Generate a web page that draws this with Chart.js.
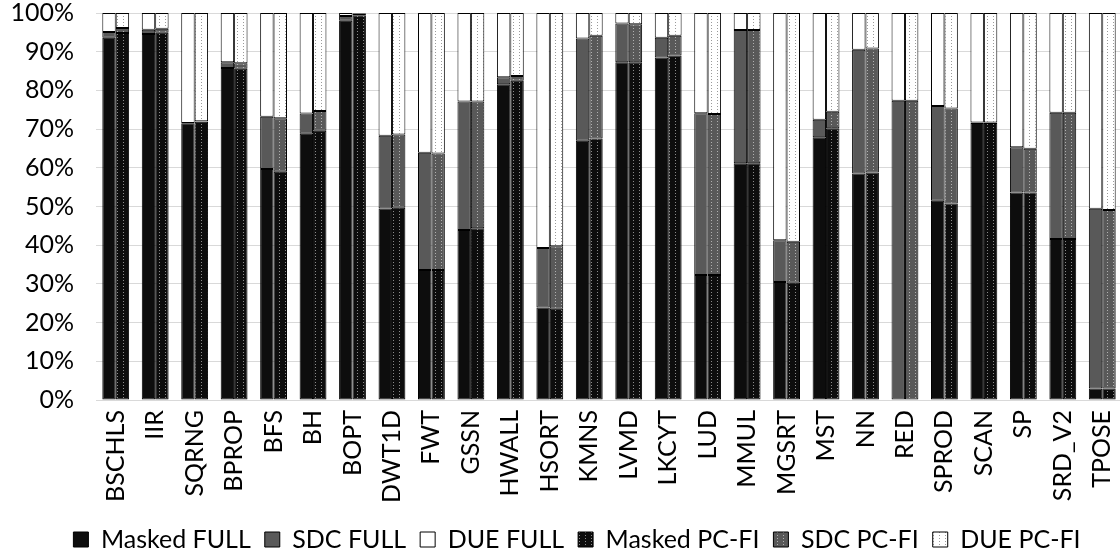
<!DOCTYPE html>
<html>
<head>
<meta charset="utf-8">
<script src="https://cdn.jsdelivr.net/npm/chart.js@4.4.1/dist/chart.umd.min.js"></script>
<style>
  html, body { margin: 0; padding: 0; background: #fff; overflow: hidden; }
  #wrap { width: 1122px; height: 553px; }
</style>
</head>
<body>
<div id="wrap"><canvas id="c" width="1122" height="553"></canvas></div>
<script>
const categories = ['BSCHLS','IIR','SQRNG','BPROP','BFS','BH','BOPT','DWT1D','FWT','GSSN','HWALL','HSORT','KMNS','LVMD','LKCYT','LUD','MMUL','MGSRT','MST','NN','RED','SPROD','SCAN','SP','SRD_V2','TPOSE'];

const maskedFull = [93.6,94.6,71.5,85.8,59.7,68.8,98.0,49.5,33.6,43.9,81.6,23.9,67.0,87.3,88.5,32.3,61.2,30.5,67.9,58.5,0,51.5,71.6,53.6,41.6,3.0];
const sdcFull    = [1.5,1.1,0.1,1.5,13.5,5.2,1.2,18.8,30.3,33.2,1.8,15.4,26.4,10.0,5.1,41.8,34.4,10.8,4.5,32.0,77.3,24.5,0.1,11.7,32.6,46.4];
const dueFull    = [4.9,4.3,28.4,12.7,26.8,26.0,0.8,31.7,36.1,22.9,16.6,60.7,6.6,2.7,6.4,25.9,4.4,58.7,27.6,9.5,22.7,24.0,28.3,34.7,25.8,50.6];

const maskedPcfi = [94.8,94.9,71.9,85.6,59.0,69.6,99.4,49.7,33.6,44.4,82.5,23.6,67.6,87.3,89.0,32.3,61.2,30.3,70.2,58.8,0,50.8,71.6,53.6,41.6,3.0];
const sdcPcfi    = [1.3,1.0,0.1,1.4,13.8,5.1,0.5,18.9,30.1,32.7,1.2,16.1,26.5,9.8,5.1,41.6,34.4,10.6,4.3,32.0,77.3,24.5,0.1,11.3,32.6,46.1];
const duePcfi    = [3.9,4.1,28.0,13.0,27.2,25.3,0.1,31.4,36.3,22.9,16.3,60.3,5.9,2.9,5.9,26.1,4.4,59.1,25.5,9.2,22.7,24.7,28.3,35.1,25.8,50.9];

const yTicks = [0,10,20,30,40,50,60,70,80,90,100];

const FONT = 'Lato, "Open Sans", sans-serif';

// dotted fill like the excel "dotted" pattern for the PC-FI bars
function dots(bg, dot) {
  const p = document.createElement('canvas'); p.width = 6; p.height = 3;
  const g = p.getContext('2d');
  g.fillStyle = bg; g.fillRect(0, 0, 6, 3);
  g.fillStyle = dot; g.fillRect(3, 1, 1, 1);
  return g.createPattern(p, 'repeat');
}
const ctx = document.getElementById('c').getContext('2d');

function ds(label, data, stack, bg) {
  return { label, data, stack, backgroundColor: bg, borderColor: '#000', borderWidth: 1, borderSkipped: false,
    barPercentage: 1.0, categoryPercentage: 0.68 };
}

// legend sits a bit right of centre in the original
const nudgeLegend = {
  id: 'nudgeLegend',
  afterLayout(chart) { const l = chart.legend; if (l) { l.left += 16; l.right += 16; } }
};

new Chart(ctx, {
  type: 'bar',
  data: {
    labels: categories,
    datasets: [
      ds('Masked FULL', maskedFull, 'full', '#0d0d0d'),
      ds('SDC FULL', sdcFull, 'full', '#595959'),
      ds('DUE FULL', dueFull, 'full', '#ffffff'),
      ds('Masked PC-FI', maskedPcfi, 'pcfi', dots('#0d0d0d', '#8a8a8a')),
      ds('SDC PC-FI', sdcPcfi, 'pcfi', dots('#595959', '#b0b0b0')),
      ds('DUE PC-FI', duePcfi, 'pcfi', dots('#ffffff', '#9a9a9a')),
    ]
  },
  plugins: [nudgeLegend],
  options: {
    responsive: false, animation: false, devicePixelRatio: 1,
    layout: { padding: { top: 13, left: 0, right: 0, bottom: -9 } },
    plugins: {
      legend: {
        position: 'bottom',
        labels: { font: { family: FONT, size: 25 }, color: '#000', boxWidth: 15, boxHeight: 15, padding: 14 }
      },
      tooltip: { enabled: false }
    },
    scales: {
      x: {
        stacked: true,
        afterFit: s => { s.paddingLeft = 0; s.paddingRight = 0; s.height = 113; },
        grid: { display: false, drawTicks: false },
        border: { color: '#d9d9d9' },
        ticks: { font: { family: FONT, size: 25 }, color: '#000', maxRotation: 90, minRotation: 90, padding: 10, autoSkip: false }
      },
      y: {
        stacked: true, min: 0, max: 100,
        afterFit: s => { s.width = 96; s.paddingTop = 0; s.paddingBottom = 0; },
        afterBuildTicks: s => { s.ticks = yTicks.map(v => ({ value: v })); },
        grid: { color: '#d9d9d9', drawTicks: false },
        border: { display: false },
        ticks: { font: { family: FONT, size: 25 }, color: '#000', padding: 22, callback: v => v + '%' }
      }
    }
  }
});
</script>
</body>
</html>
